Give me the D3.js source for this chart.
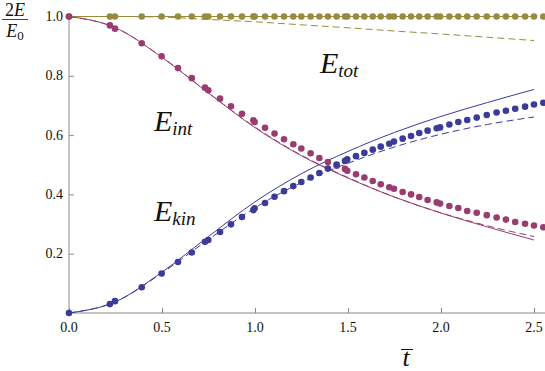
<!DOCTYPE html>
<html><head><meta charset="utf-8">
<script src="https://cdn.jsdelivr.net/npm/d3@7"></script>
<style>body{margin:0;background:#fff}svg{display:block}
svg text{font-family:"Liberation Serif","DejaVu Serif","Times New Roman",Times,"Nimbus Roman","Nimbus Roman No9 L","FreeSerif","Noto Serif",Tinos,Georgia,serif;}</style>
</head><body>
<svg id="c" width="545" height="371"></svg>
<script>
// simulation sample times (dots)
const tDots = [0,0.220,0.247,0.391,0.498,0.586,0.660,0.731,0.749,0.812,0.871,0.930,0.991,0.998,1.054,1.105,1.156,1.206,1.249,1.299,1.346,1.392,1.439,1.484,1.496,1.543,1.588,1.633,1.676,1.722,1.747,1.794,1.839,1.883,1.928,1.977,1.995,2.045,2.093,2.141,2.192,2.246,2.299,2.349,2.399,2.452,2.500,2.550];
const eIntDots = [1.0,0.970,0.959,0.910,0.866,0.826,0.792,0.760,0.751,0.723,0.697,0.672,0.650,0.644,0.625,0.605,0.586,0.569,0.555,0.539,0.523,0.509,0.497,0.486,0.480,0.468,0.457,0.445,0.434,0.424,0.419,0.408,0.400,0.391,0.381,0.373,0.369,0.361,0.354,0.344,0.338,0.330,0.322,0.315,0.307,0.301,0.295,0.289];
const eKinDots = [0.0,0.030,0.040,0.087,0.133,0.172,0.204,0.240,0.246,0.273,0.299,0.324,0.347,0.353,0.371,0.392,0.411,0.428,0.442,0.457,0.472,0.487,0.501,0.513,0.518,0.529,0.540,0.551,0.561,0.571,0.578,0.588,0.597,0.607,0.615,0.623,0.626,0.636,0.644,0.651,0.659,0.668,0.676,0.682,0.689,0.696,0.703,0.709];
const eTotDots = [1,1,1,1,1,1,1,1,1,1,1,1,1,1,1,1,1,1,1,1,1,1,1,1,1,1,1,1,1,1,1,1,1,1,1,1,1,1,1,1,1,1,1,1,1,1,1,1];

// analytic curves (solid) and approximate curves (dashed)
const tCurve = [0,0.25,0.5,0.75,1.0,1.25,1.5,1.75,2.0,2.25,2.5];
const eIntSolid = [1.000,0.962,0.862,0.742,0.625,0.530,0.455,0.391,0.337,0.290,0.246];
const eKinSolid = [0.000,0.038,0.138,0.258,0.375,0.470,0.545,0.609,0.663,0.710,0.754];
const eTotSolid = [1,1,1,1,1,1,1,1,1,1,1];
const eIntDashed = [1.000,0.962,0.863,0.742,0.627,0.532,0.457,0.391,0.338,0.294,0.258];
const eKinDashed = [0.000,0.038,0.135,0.248,0.355,0.440,0.505,0.560,0.603,0.636,0.661];
const eTotDashed = [1.000,1.000,0.998,0.990,0.982,0.972,0.962,0.951,0.941,0.930,0.919];

const xTicks = [0,0.5,1.0,1.5,2.0,2.5];
const xTickLabels = ["0.0","0.5","1.0","1.5","2.0","2.5"];
const yTicks = [0.2,0.4,0.6,0.8,1.0];
const yTickLabels = ["0.2","0.4","0.6","0.8","1.0"];

const BLUE = "#3d3b99", MAG = "#993d71", GOLD = "#998b3d", AX = "#8a8a8a";

const svg = d3.select("#c");
const x = d3.scaleLinear().domain([0,2.5]).range([69,534]);
const y = d3.scaleLinear().domain([0,1]).range([313,16.5]);

svg.append("defs").append("clipPath").attr("id","clip")
  .append("rect").attr("x",0).attr("y",0).attr("width",545).attr("height",371);

// axes
const gx = svg.append("g").attr("transform",`translate(0,${y(0)})`);
gx.call(d3.axisTop(x).tickValues(d3.range(0,2.56,0.1)).tickSize(2.5).tickFormat(""))
  .call(g=>g.select(".domain").remove());
gx.call(d3.axisTop(x).tickValues(xTicks).tickSize(5).tickFormat(""))
  .call(g=>g.select(".domain").remove());
gx.selectAll("line").attr("stroke",AX);
gx.append("line").attr("x1",x(0)).attr("x2",545).attr("stroke",AX);
svg.append("g").selectAll("text").data(xTicks).join("text")
  .attr("x",d=>x(d)).attr("y",332).attr("text-anchor","middle")
  .attr("font-size",14).attr("fill","#111")
  .text((d,i)=>xTickLabels[i]);

const gy = svg.append("g").attr("transform",`translate(${x(0)},0)`);
gy.call(d3.axisRight(y).tickValues(d3.range(0.05,1.001,0.05)).tickSize(2.5).tickFormat(""))
  .call(g=>g.select(".domain").remove());
gy.call(d3.axisRight(y).tickValues(yTicks).tickSize(5).tickFormat(""))
  .call(g=>g.select(".domain").remove());
gy.selectAll("line").attr("stroke",AX);
gy.append("line").attr("y1",y(1)).attr("y2",y(0)).attr("stroke",AX);
svg.append("g").selectAll("text").data(yTicks).join("text")
  .attr("x",63).attr("y",d=>y(d)+4.5).attr("text-anchor","end")
  .attr("font-size",14).attr("fill","#111")
  .text((d,i)=>yTickLabels[i]);

// curves
const plot = svg.append("g").attr("clip-path","url(#clip)");
const line = d3.line().curve(d3.curveMonotoneX);
function curve(vals,color,dash){
  plot.append("path")
    .attr("d",line(tCurve.map((t,i)=>[x(t),y(vals[i])])))
    .attr("fill","none").attr("stroke",color).attr("stroke-width",1)
    .attr("stroke-dasharray",dash||null);
}
curve(eTotDashed,GOLD,"7,4");
curve(eIntDashed,MAG,"7,4");
curve(eKinDashed,BLUE,"7,4");
curve(eTotSolid,GOLD);
curve(eIntSolid,MAG);
curve(eKinSolid,BLUE);

function dots(vals,color){
  plot.append("g").selectAll("circle").data(tDots).join("circle")
    .attr("cx",d=>x(d)).attr("cy",(d,i)=>y(vals[i])).attr("r",3.3).attr("fill",color);
}
dots(eTotDots,GOLD);
dots(eIntDots,MAG);
dots(eKinDots,BLUE);

// labels
function eLabel(xp,yp,sub){
  const t = svg.append("text").attr("x",xp).attr("y",yp)
    .attr("font-style","italic").attr("fill","#111");
  t.append("tspan").attr("font-size",30).text("E");
  t.append("tspan").attr("font-size",19).attr("dy",4).text(sub);
}
eLabel(320,73,"tot");
eLabel(154,131,"int");
eLabel(154,221,"kin");

// y-axis fraction label
const fr = svg.append("g").attr("fill","#111");
const num = fr.append("text").attr("x",15).attr("y",15.5).attr("text-anchor","middle").attr("font-size",18);
num.append("tspan").text("2");
num.append("tspan").attr("font-style","italic").text("E");
fr.append("line").attr("x1",2).attr("x2",28).attr("y1",19.5).attr("y2",19.5).attr("stroke","#111").attr("stroke-width",0.8);
const den = fr.append("text").attr("x",15).attr("y",37).attr("text-anchor","middle").attr("font-size",18);
den.append("tspan").attr("font-style","italic").text("E");
den.append("tspan").attr("font-size",13).attr("dy",3).text("0");

// x-axis label t-bar
svg.append("text").attr("x",406).attr("y",366).attr("text-anchor","middle")
  .attr("font-style","italic").attr("font-size",26).attr("fill","#111")
  .text("t");
svg.append("line").attr("x1",401).attr("x2",413).attr("y1",349.5).attr("y2",349.5)
  .attr("stroke","#111").attr("stroke-width",1);
</script>
</body></html>
